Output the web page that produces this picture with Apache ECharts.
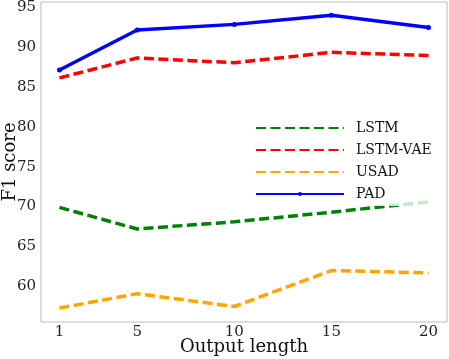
<!DOCTYPE html>
<html><head><meta charset="utf-8">
<script src="https://cdn.jsdelivr.net/npm/echarts@6/dist/echarts.min.js"></script>
<style>html,body{margin:0;padding:0;background:#fff}#c{width:449px;height:359px}</style>
</head><body><div id="c"></div>
<script>
const xValues = [1, 5, 10, 15, 20];
const xTicks = [1, 5, 10, 15, 20];
const yTicks = [60, 65, 70, 75, 80, 85, 90, 95];
const lstm = [69.9, 67.2, 68.1, 69.3, 70.6];
const lstmVae = [86.1, 88.6, 88.0, 89.3, 88.9];
const usad = [57.3, 59.1, 57.5, 62.0, 61.7];
const pad = [87.1, 92.1, 92.8, 93.95, 92.4];

const font = 'DejaVu Serif';
function pts(arr){ return xValues.map((x,i)=>[x, arr[i]]); }
function dashed(name, data, color){
  return {name, type:'line', data:pts(data), symbol:'none', z:2,
    lineStyle:{color, width:3.5, type:[10,4.5]}, itemStyle:{color}};
}
const chart = echarts.init(document.getElementById('c'), null, {renderer:'canvas'});
chart.setOption({
  animation:false,
  grid:{left:41, top:2, width:406, height:320, containLabel:false, outerBoundsMode:'none',
    show:true, borderColor:'#bbbbbb', borderWidth:1, backgroundColor:'transparent'},
  xAxis:{type:'value', min:0.05, max:20.95, name:'Output length', nameLocation:'middle', nameGap:16,
    nameMoveOverlap:false,
    nameTextStyle:{fontFamily:font, fontSize:18, color:'#111'},
    axisLine:{show:false}, axisTick:{show:false}, splitLine:{show:false},
    axisLabel:{customValues:xTicks, fontFamily:font, fontSize:15, color:'#222', margin:3}},
  yAxis:{type:'value', min:55.56, max:95.6, name:'F1 score', nameLocation:'middle', nameGap:22,
    nameMoveOverlap:false,
    nameTextStyle:{fontFamily:font, fontSize:18, color:'#111'},
    axisLine:{show:false}, axisTick:{show:false}, splitLine:{show:false},
    axisLabel:{customValues:yTicks, fontFamily:font, fontSize:15, color:'#222', margin:5}},
  legend:{orient:'vertical', left:245, top:113, padding:[8,8,5,10], itemWidth:88, itemHeight:5, itemGap:8,
    backgroundColor:'rgba(255,255,255,0.8)', borderRadius:3,
    data:[
      {name:'LSTM', itemStyle:{opacity:0}},
      {name:'LSTM-VAE', itemStyle:{opacity:0}},
      {name:'USAD', itemStyle:{opacity:0}},
      {name:'PAD'}
    ],
    textStyle:{fontFamily:font, fontSize:14, color:'#111', padding:[0,0,0,7]}},
  series:[
    dashed('LSTM', lstm, '#008000'),
    dashed('LSTM-VAE', lstmVae, '#ff0000'),
    dashed('USAD', usad, '#ffa500'),
    {name:'PAD', type:'line', data:pts(pad), symbol:'circle', symbolSize:5, z:3,
      lineStyle:{color:'#0000ff', width:3.5}, itemStyle:{color:'#0000ff'}}
  ]
});
</script></body></html>
